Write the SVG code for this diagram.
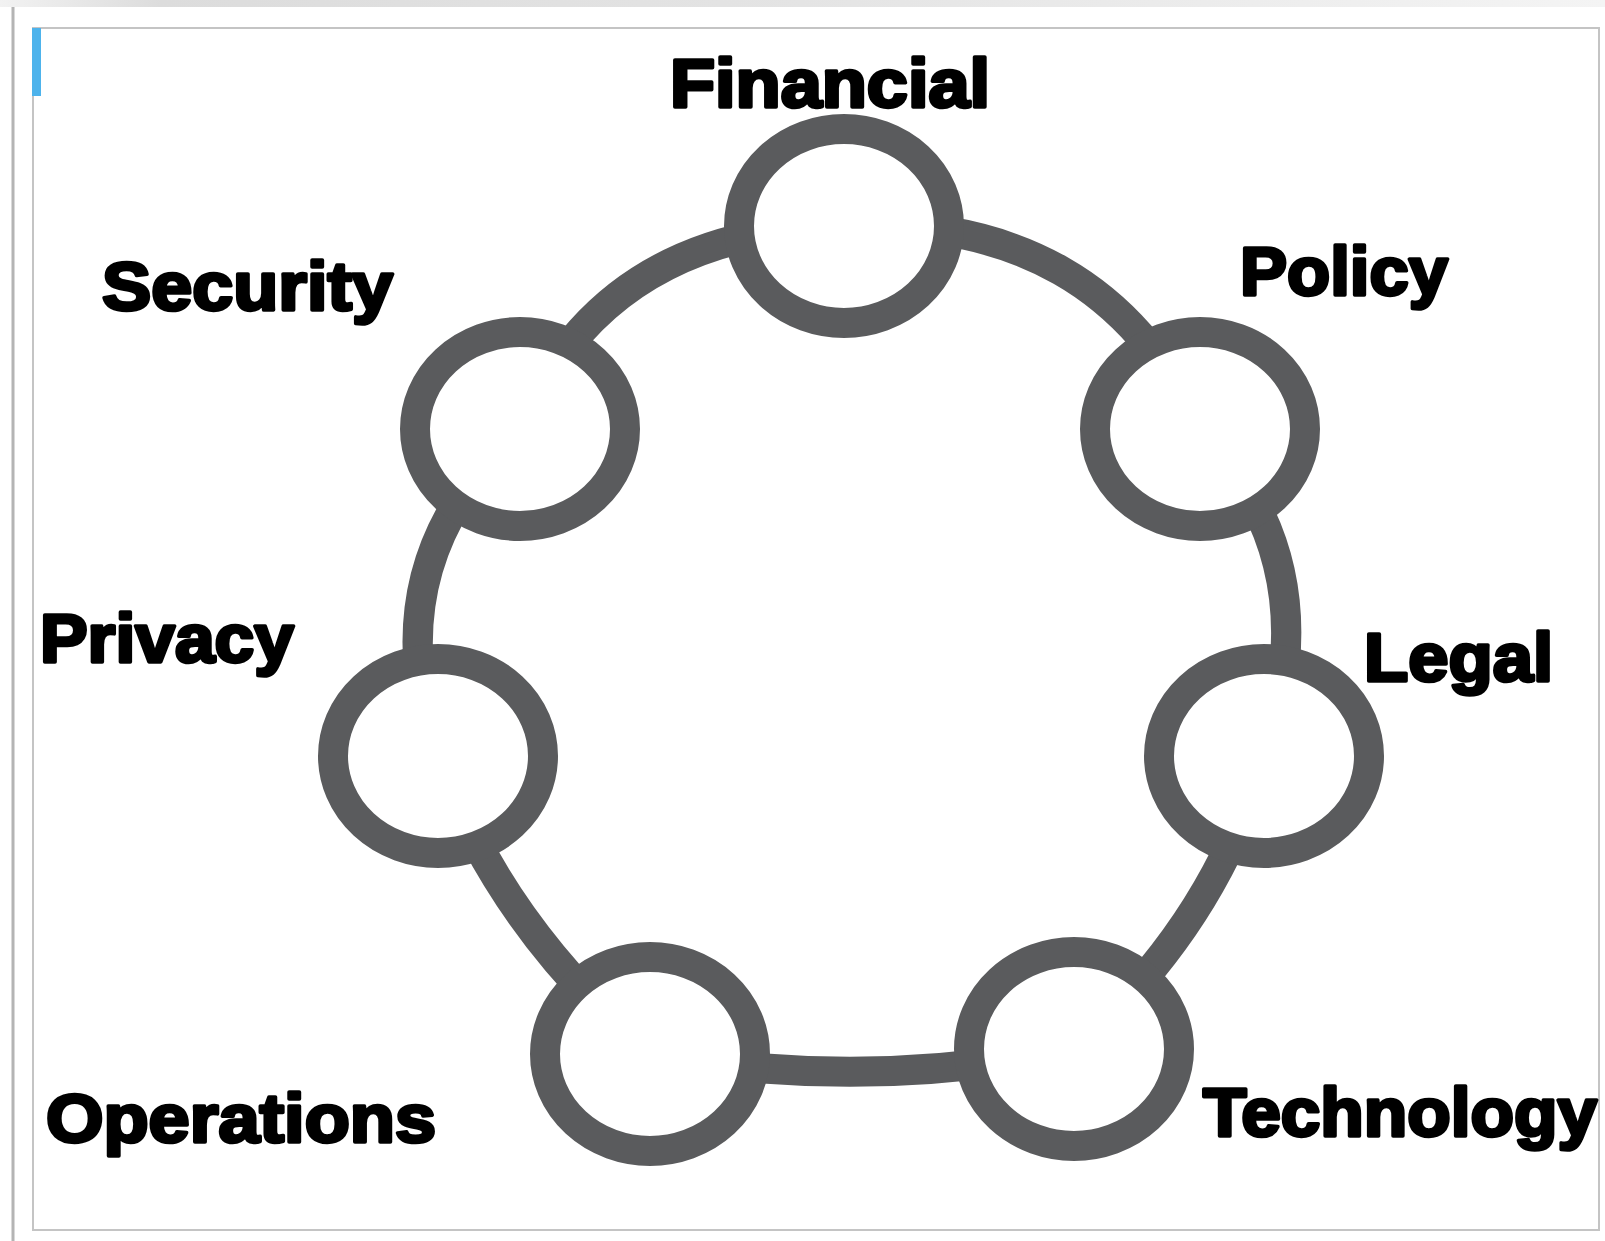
<svg xmlns="http://www.w3.org/2000/svg" width="1605" height="1241" viewBox="0 0 1605 1241">
  <style>
    .ring { fill: none; stroke: #5a5b5d; stroke-width: 30; stroke-linecap: butt; }
    .node { fill: #ffffff; stroke: #5a5b5d; stroke-width: 30; }
    .label { font-family: "Liberation Sans", Arial, sans-serif; font-weight: 700; font-size: 68px; fill: #000; stroke: #000; stroke-width: 3.5; stroke-linejoin: round; }
  </style>
  <defs>
    <linearGradient id="topband" x1="0" y1="0" x2="1" y2="0">
      <stop offset="0" stop-color="#f2f2f2"/>
      <stop offset="0.1" stop-color="#dcdcdc"/>
      <stop offset="0.5" stop-color="#e4e4e4"/>
      <stop offset="1" stop-color="#f4f4f4"/>
    </linearGradient>
  </defs>

  <!-- page background and frame -->
  <rect x="0" y="0" width="1605" height="1241" fill="#ffffff"/>
  <rect x="0" y="0" width="1605" height="7" fill="url(#topband)"/>
  <line x1="13" y1="7" x2="13" y2="1241" stroke="#b4b4b4" stroke-width="3"/>
  <rect x="33" y="28" width="1566" height="1202" fill="#ffffff" stroke="#c4c4c4" stroke-width="2"/>
  <rect x="32" y="28" width="9" height="68" fill="#4db3ec"/>

  <!-- ring connectors between neighbouring nodes -->
  <g id="connectors">
    <path class="ring" d="M844,226 Q1100,214 1200,429"/>
    <path class="ring" d="M1200,429 Q1330,563 1264,756"/>
    <path class="ring" d="M1264,756 Q1215,925 1074,1049"/>
    <path class="ring" d="M1074,1049 Q864,1092 650,1054"/>
    <path class="ring" d="M650,1054 Q500,927 438,756"/>
    <path class="ring" d="M438,756 Q372,563 520,429"/>
    <path class="ring" d="M520,429 Q604,230 844,226"/>
  </g>

  <g id="node-financial">
    <ellipse class="node" cx="844" cy="226" rx="105" ry="97"/>
    <text class="label" x="670" y="107" textLength="320" lengthAdjust="spacingAndGlyphs">Financial</text>
  </g>
  <g id="node-policy">
    <ellipse class="node" cx="1200" cy="429" rx="105" ry="97"/>
    <text class="label" x="1240" y="295" textLength="208" lengthAdjust="spacingAndGlyphs">Policy</text>
  </g>
  <g id="node-legal">
    <ellipse class="node" cx="1264" cy="756" rx="105" ry="97"/>
    <text class="label" x="1364" y="681" textLength="189" lengthAdjust="spacingAndGlyphs">Legal</text>
  </g>
  <g id="node-technology">
    <ellipse class="node" cx="1074" cy="1049" rx="105" ry="97"/>
    <text class="label" x="1203" y="1136" textLength="394" lengthAdjust="spacingAndGlyphs">Technology</text>
  </g>
  <g id="node-operations">
    <ellipse class="node" cx="650" cy="1054" rx="105" ry="97"/>
    <text class="label" x="46" y="1142" textLength="390" lengthAdjust="spacingAndGlyphs">Operations</text>
  </g>
  <g id="node-privacy">
    <ellipse class="node" cx="438" cy="756" rx="105" ry="97"/>
    <text class="label" x="40" y="662" textLength="254" lengthAdjust="spacingAndGlyphs">Privacy</text>
  </g>
  <g id="node-security">
    <ellipse class="node" cx="520" cy="429" rx="105" ry="97"/>
    <text class="label" x="102" y="310" textLength="291" lengthAdjust="spacingAndGlyphs">Security</text>
  </g>
</svg>
